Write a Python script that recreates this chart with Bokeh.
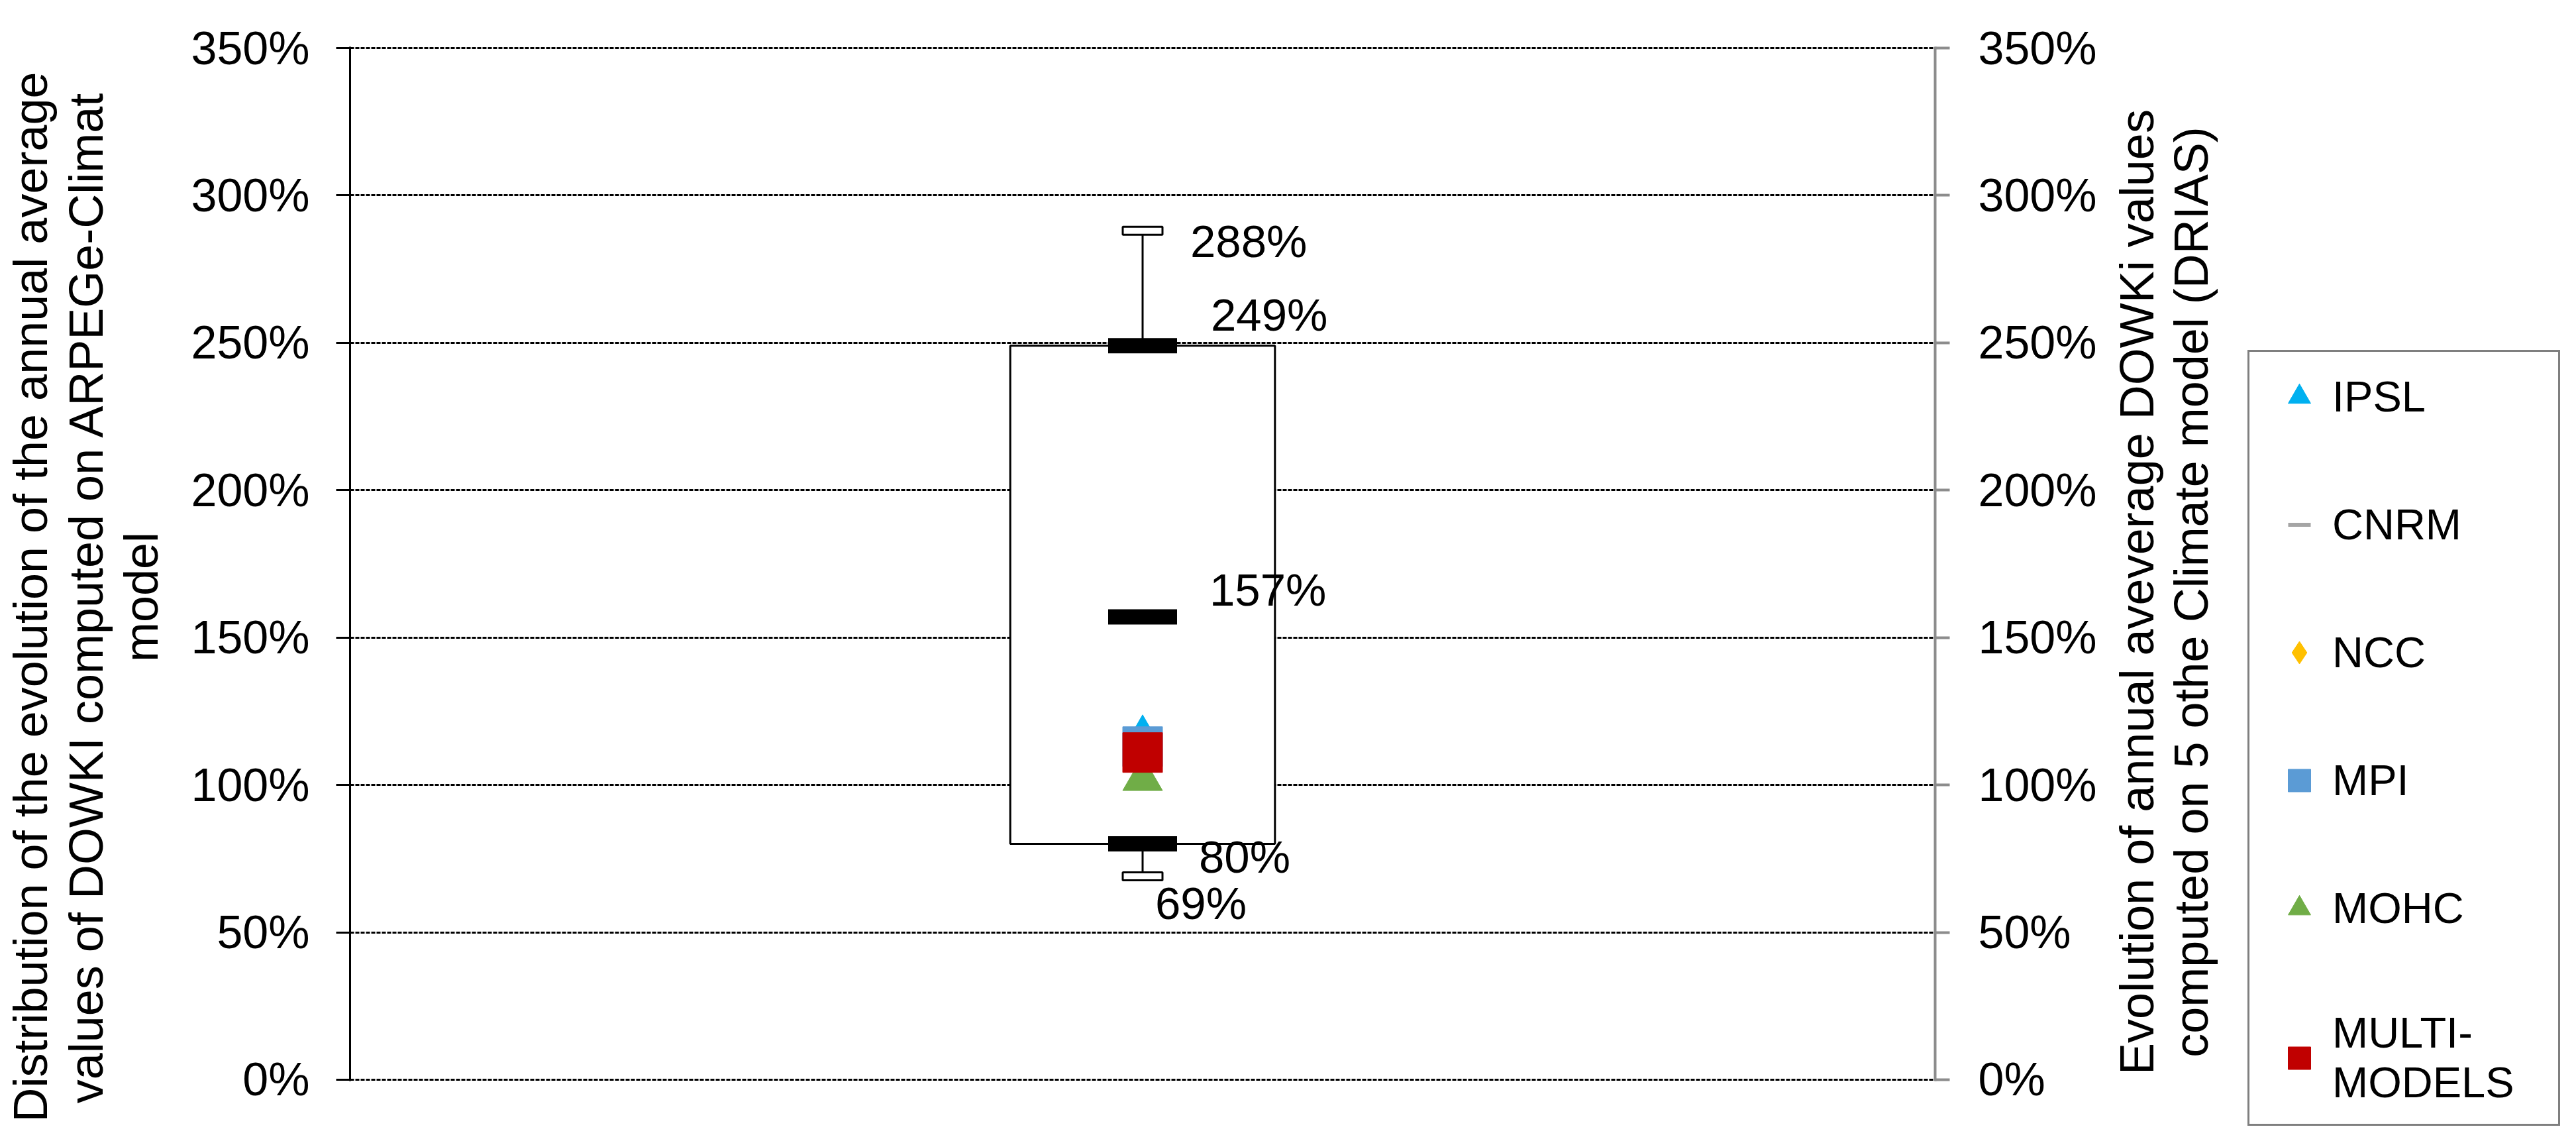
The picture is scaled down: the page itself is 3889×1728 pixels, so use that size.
import math
from bokeh.plotting import figure
from bokeh.layouts import row
from bokeh.models import FactorRange, Range1d, LinearAxis, FixedTicker, PrintfTickFormatter, Label, Legend, LegendItem
from bokeh.embed import file_html
from bokeh.resources import INLINE
from bokeh.core.properties import value

# ---------------- data ----------------
categories = ["ARPEGE-Climat"]
stat_values = [69, 80, 157, 249, 288]          # min, q1, median, q3, max (%)
y_ticks = [0, 50, 100, 150, 200, 250, 300, 350]
model_names = ["IPSL", "CNRM", "NCC", "MPI", "MOHC", "MULTI-\nMODELS"]
model_values = [116, 111, 110, 113, 102, 111]
model_colors = ["#00B0F0", "#A5A5A5", "#FFC000", "#5B9BD5", "#70AD47", "#C00000"]
model_markers = ["triangle", "dash", "diamond", "square", "triangle", "square"]

left_title_lines = ["Distribution of the evolution of the annual average",
                    "values of DOWKI computed on ARPEGe-Climat",
                    "model"]
right_title_lines = ["Evolution of annual aveverage DOWKi values",
                     "computed on 5 othe Climate model (DRIAS)"]

FONT = "Liberation Sans"
W1, W2, H = 3180, 700, 1720
FL, FR, FT, FB = 528, 2921, 70, 1631   # main frame edges (px), 2px slack so end grid lines show
PAD = 0.45                              # matching slack in data units

p = figure(width=W1, height=H, x_range=FactorRange(factors=categories),
           y_range=Range1d(y_ticks[0] - PAD, y_ticks[-1] + PAD),
           output_backend="svg", toolbar_location=None,
           min_border_left=FL, min_border_right=W1 - FR, min_border_top=FT,
           min_border_bottom=H - FB)
p.outline_line_color = None
p.background_fill_color = "white"
p.xaxis.visible = False
p.xgrid.visible = False

ticker = FixedTicker(ticks=y_ticks, minor_ticks=[])
fmt = PrintfTickFormatter(format="%d%%")

p.ygrid.ticker = ticker
p.ygrid.grid_line_color = "black"
p.ygrid.grid_line_width = 3
p.ygrid.grid_line_dash = "6 2"

ya = p.yaxis[0]
ya.ticker = ticker
ya.formatter = fmt
ya.axis_line_color = "black"
ya.axis_line_width = 3
ya.major_tick_line_color = "black"
ya.major_tick_line_width = 3
ya.major_tick_out = 21
ya.major_tick_in = 0
ya.minor_tick_line_color = None
ya.major_label_standoff = 40
ya.major_label_text_font = FONT
ya.major_label_text_font_size = "70px"
ya.major_label_text_color = "black"
# non-breaking spaces shift the centred title slightly downwards, as in the original
ya.axis_label = "\n".join(line + "\u00a0" * 5 for line in left_title_lines)
ya.axis_label_text_font = FONT
ya.axis_label_text_font_size = "72px"
ya.axis_label_text_font_style = "normal"
ya.axis_label_text_color = "black"
ya.axis_label_text_line_height = 1.045
ya.axis_label_standoff = 32

ra = LinearAxis(ticker=ticker, formatter=fmt)
ra.axis_line_color = "#8C8C8C"
ra.axis_line_width = 4
ra.major_tick_line_color = "#8C8C8C"
ra.major_tick_line_width = 4
ra.major_tick_out = 22
ra.major_tick_in = 0
ra.minor_tick_line_color = None
ra.major_label_standoff = 43
ra.major_label_text_font = FONT
ra.major_label_text_font_size = "70px"
ra.major_label_text_color = "black"
p.add_layout(ra, "right")

vmin, q1, med, q3, vmax = stat_values
cat = categories[0]

# whiskers
p.segment(x0=[cat, cat], y0=[q3, q1], x1=[cat, cat], y1=[vmax, vmin],
          line_color="black", line_width=3)
# box
p.vbar(x=[cat], bottom=[q1], top=[q3], width=0.167, fill_color="white",
       line_color="black", line_width=3)
# thick bars (q1, median, q3)
p.rect(x=[cat] * 3, y=[q1, med, q3], width=104, height=23,
       width_units="screen", height_units="screen",
       fill_color="black", line_color=None)
# whisker caps
p.rect(x=[cat, cat], y=[vmax, vmin], width=60, height=12,
       width_units="screen", height_units="screen",
       fill_color="white", line_color="black", line_width=3)

# value labels
label_dx = [19, 85, 101, 103, 72]
label_dy = [41, 20, -41, -46, 16]
p.text(x=[cat] * len(stat_values), y=stat_values,
       text=[f"{v}%" for v in stat_values],
       x_offset=label_dx, y_offset=label_dy,
       text_font=value(FONT), text_font_size="69px", text_color="black",
       text_align="left", text_baseline="middle")

def draw_models(fig, visible=True):
    rends = []
    for name, val, col, mk in zip(model_names, model_values, model_colors, model_markers):
        if mk == "dash":
            r = fig.scatter(x=[cat], y=[val], marker=mk, size=60, line_color=col,
                            line_width=6)
        else:
            r = fig.scatter(x=[cat], y=[val], marker=mk, size=60, fill_color=col,
                            line_color=col, line_width=1)
        r.visible = visible
        rends.append(r)
    return rends

draw_models(p)

# ---------------- right panel: title + legend ----------------
p2 = figure(width=W2, height=H, x_range=FactorRange(factors=categories),
            y_range=Range1d(0, 350), output_backend="svg", toolbar_location=None,
            x_axis_location=None, y_axis_location=None, min_border=0)
p2.outline_line_color = None
p2.grid.visible = False
if "frame_align" in p2.properties():
    p2.frame_align = False
    p.frame_align = False

for i, line in enumerate(right_title_lines):
    p2.add_layout(Label(x=3258 - 33 + 82 * i - W1, y=H - 893, x_units="screen", y_units="screen",
                        text=line, angle=math.pi / 2, text_align="center",
                        text_baseline="alphabetic", text_font=FONT,
                        text_font_size="72px", text_color="black"))

legend_rends = draw_models(p2, visible=False)
lg = Legend(items=[LegendItem(label=n, renderers=[r]) for n, r in zip(model_names, legend_rends)])
lg.location = (3393 - W1, H - 1699)
lg.border_line_color = "black"
lg.border_line_width = 3
lg.background_fill_color = "white"
lg.background_fill_alpha = 1
lg.padding = 25
lg.spacing = 108
lg.margin = 0
lg.glyph_width = 100
lg.glyph_height = 85
lg.label_standoff = 0
lg.label_width = 316
lg.label_height = 85
lg.label_text_font = FONT
lg.label_text_font_size = "65px"
lg.label_text_color = "black"
p2.add_layout(lg, "center")

layout = row(p, p2, spacing=0)
open("out.html", "w").write(file_html(layout, INLINE))
